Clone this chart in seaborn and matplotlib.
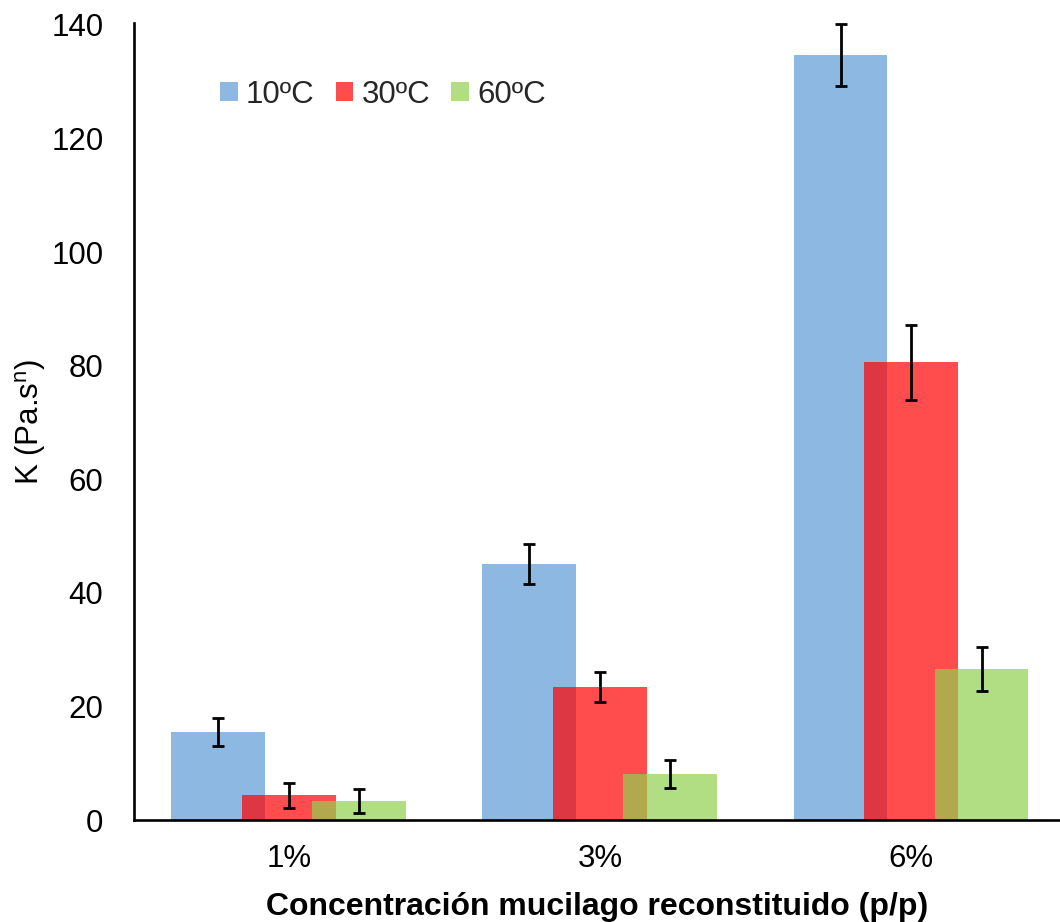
import matplotlib
matplotlib.use("Agg")
import matplotlib.pyplot as plt
from matplotlib.patches import Patch
import pandas as pd
import seaborn as sns

# Concentrations (x categories) and temperature series
conc = ["1%", "3%", "6%"]
temps = ["10ºC", "30ºC", "60ºC"]

# Consistency index K (Pa.s^n) and its standard deviation
k_10 = [15.5, 45.1, 134.7]
k_30 = [4.4, 23.4, 80.6]
k_60 = [3.3, 8.1, 26.6]
sd_10 = [2.5, 3.5, 5.4]
sd_30 = [2.2, 2.6, 6.6]
sd_60 = [2.1, 2.4, 3.8]

colors = ["#5B9BD5", "#FF0000", "#92D14F"]
y_ticks = [0, 20, 40, 60, 80, 100, 120, 140]

rows = []
for t, ks, sds in zip(temps, [k_10, k_30, k_60], [sd_10, sd_30, sd_60]):
    for c, k, s in zip(conc, ks, sds):
        rows.append({"conc": c, "temp": t, "K": k, "sd": s})
df = pd.DataFrame(rows)

sns.set_style("white")
plt.rcParams["font.family"] = ["Liberation Sans", "DejaVu Sans"]
plt.rcParams["mathtext.fontset"] = "custom"
plt.rcParams["mathtext.rm"] = "Liberation Sans"

FS = 22.5
fig = plt.figure(figsize=(10.6, 9.22), dpi=100)
ax = fig.add_axes([134 / 1060, 102 / 922, 926 / 1060, 797 / 922])

sns.barplot(data=df, x="conc", y="K", hue="temp", order=conc, hue_order=temps,
            palette=colors, alpha=0.7, saturation=1, width=0.68, errorbar=None,
            linewidth=0, legend=False, ax=ax)

# Widen the dodged bars so neighbouring series overlap
bar_w = 0.302
centers, heights = [], []
for p in ax.patches:
    cx = p.get_x() + p.get_width() / 2
    p.set_width(bar_w)
    p.set_x(cx - bar_w / 2)
    centers.append(cx)
    heights.append(p.get_height())

ax.errorbar(centers, heights, yerr=sd_10 + sd_30 + sd_60, fmt="none",
            ecolor="black", elinewidth=2.0, capsize=4.4, capthick=2.0, zorder=5)

ax.set_xlim(-0.498, 2.479)
ax.set_ylim(0, 140.35)
ax.set_yticks(y_ticks)
ax.tick_params(axis="both", length=0, labelsize=FS, colors="black")
ax.tick_params(axis="y", pad=22)
ax.tick_params(axis="x", pad=17)

sns.despine(ax=ax)
for side in ["left", "bottom"]:
    ax.spines[side].set_color("black")
    ax.spines[side].set_linewidth(1.9)

ax.set_ylabel(r"K (Pa.s$^\mathregular{n}$)", fontsize=FS, color="black", labelpad=2)
ax.set_xlabel("Concentración mucilago reconstituido (p/p)", fontsize=23,
              fontweight="bold", color="black", labelpad=13)

handles = [Patch(facecolor=c, alpha=0.7, linewidth=0) for c in colors]
fig.legend(handles, temps, loc="center left", bbox_to_anchor=(220 / 1060, 1 - 95 / 922),
           ncol=3, frameon=False, fontsize=FS, handlelength=0.56, handleheight=0.56,
           handletextpad=0.27, columnspacing=0.67, borderpad=0, borderaxespad=0)

fig.savefig("out.png", dpi=100)
